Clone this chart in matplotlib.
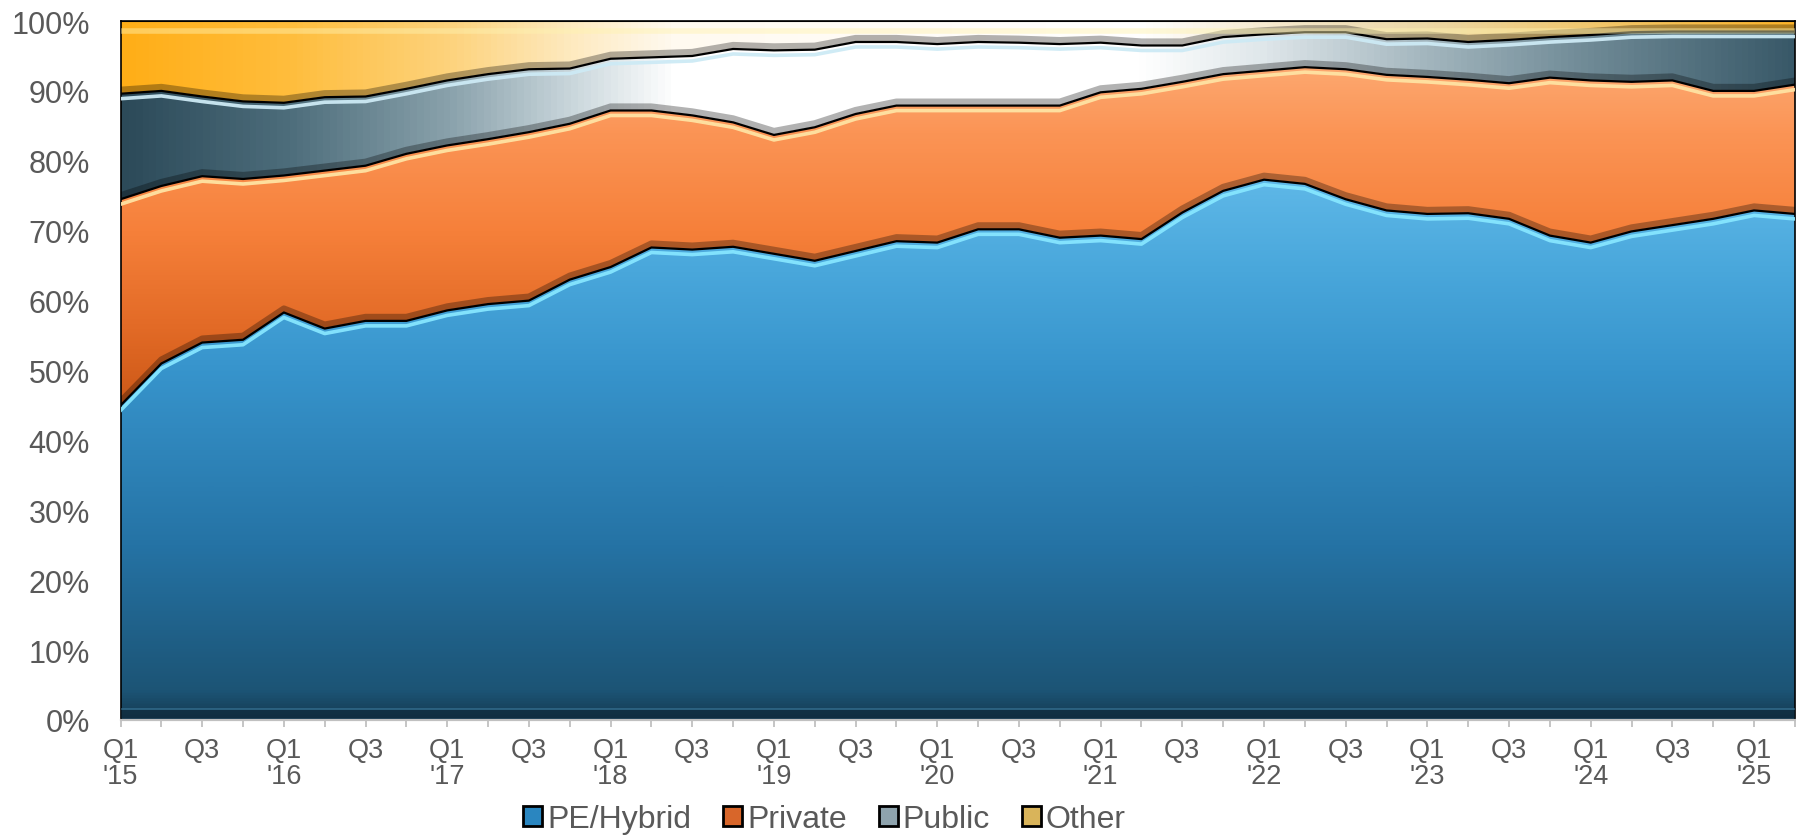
import numpy as np
import matplotlib
matplotlib.use("Agg")
import matplotlib.pyplot as plt
from matplotlib import patheffects as pe
from matplotlib.colors import LinearSegmentedColormap
from matplotlib.patches import Patch

# quarterly share of deals by buyer type (%)
quarters = ["Q1 '15", "Q2 '15", "Q3 '15", "Q4 '15",
            "Q1 '16", "Q2 '16", "Q3 '16", "Q4 '16",
            "Q1 '17", "Q2 '17", "Q3 '17", "Q4 '17",
            "Q1 '18", "Q2 '18", "Q3 '18", "Q4 '18",
            "Q1 '19", "Q2 '19", "Q3 '19", "Q4 '19",
            "Q1 '20", "Q2 '20", "Q3 '20", "Q4 '20",
            "Q1 '21", "Q2 '21", "Q3 '21", "Q4 '21",
            "Q1 '22", "Q2 '22", "Q3 '22", "Q4 '22",
            "Q1 '23", "Q2 '23", "Q3 '23", "Q4 '23",
            "Q1 '24", "Q2 '24", "Q3 '24", "Q4 '24",
            "Q1 '25", "Q2 '25"]

pe_hybrid = [45.0, 51.0, 54.0, 54.4, 58.3, 56.0, 57.1, 57.1, 58.6, 59.5,
             60.0, 63.0, 64.8, 67.6, 67.3, 67.7, 66.7, 65.7, 67.1, 68.5,
             68.3, 70.2, 70.2, 69.0, 69.3, 68.8, 72.6, 75.7, 77.3, 76.7,
             74.5, 72.9, 72.4, 72.5, 71.7, 69.3, 68.3, 69.9, 70.8, 71.7,
             72.9, 72.4]
private = [29.5, 25.4, 23.8, 23.0, 19.6, 22.6, 22.2, 23.9, 23.6, 23.6,
           24.1, 22.3, 22.4, 19.6, 19.2, 17.8, 17.0, 19.1, 19.6, 19.4,
           19.6, 17.7, 17.7, 18.9, 20.5, 21.5, 18.7, 16.7, 15.6, 16.7,
           18.6, 19.4, 19.6, 19.1, 19.4, 22.6, 23.2, 21.4, 20.7, 18.3,
           17.1, 18.5]
public = [15.1, 13.6, 11.4, 11.1, 10.4, 10.5, 9.9, 9.3, 9.3, 9.3,
          9.0, 7.9, 7.4, 7.6, 8.5, 10.5, 12.1, 11.1, 10.3, 9.1,
          8.8, 9.1, 9.0, 8.8, 7.1, 6.2, 5.2, 5.3, 5.2, 5.0,
          5.3, 5.1, 5.5, 5.4, 6.2, 5.8, 6.5, 7.1, 7.0, 8.5,
          8.5, 7.6]
other = [10.4, 10.0, 10.8, 11.5, 11.7, 10.9, 10.8, 9.7, 8.5, 7.6,
         6.9, 6.8, 5.4, 5.2, 5.0, 4.0, 4.2, 4.1, 3.0, 3.0,
         3.3, 3.0, 3.1, 3.3, 3.1, 3.5, 3.5, 2.3, 1.9, 1.6,
         1.6, 2.6, 2.5, 3.0, 2.7, 2.3, 2.0, 1.6, 1.5, 1.5,
         1.5, 1.5]

series_names = ["PE/Hybrid", "Private", "Public", "Other"]

TXT = "#595959"
plt.rcParams["font.family"] = ["Liberation Sans", "DejaVu Sans"]

x = np.arange(len(quarters))
XMAX = 40.8
vals = np.array([pe_hybrid, private, public, other])
tops = np.cumsum(vals, axis=0)
tops[-1] = 100.0
bottoms = np.vstack([np.zeros(len(x)), tops[:-1]])

fig = plt.figure(figsize=(17.96, 8.37), dpi=100)
ax = fig.add_axes([0.0671, 0.1386, 0.9323, 0.8351])


def cmap_from(stops, span):
    return LinearSegmentedColormap.from_list(
        "g", [(p / span, c) for p, c in stops])


# gradients: vertical ones keyed on y (%), horizontal ones keyed on x (quarter index)
blue_v = cmap_from([(0, "#153a51"), (4, "#1c5475"), (25, "#2573a5"),
                    (50, "#3794cc"), (65, "#4aa8dc"), (80, "#63bbea"),
                    (100, "#63bbea")], 100)
orange_v = cmap_from([(0, "#c95616"), (45, "#cc5817"), (56, "#e26a26"),
                      (70, "#f6803a"), (84, "#fb9455"), (95, "#fdab74"),
                      (100, "#fdab74")], 100)
gray_h = cmap_from([(0, "#2c4a59"), (4, "#4d6d7b"), (8, "#8aa2ac"),
                    (11, "#cad7dc"), (13.5, "#ffffff"), (25, "#ffffff"),
                    (28, "#dfe7ea"), (32, "#a3b6be"), (36, "#6f8a96"),
                    (42, "#2e4f5f")], 42)
gold_h = cmap_from([(0, "#ffae17"), (4, "#ffbd3c"), (8, "#fdd37d"),
                    (11, "#feeac0"), (13.5, "#fffaf0"), (25, "#ffffff"),
                    (28, "#f6ead0"), (32, "#ecd7a6"), (36, "#f0c76e"),
                    (42, "#ffb01c")], 42)
fills = [(blue_v, "v"), (orange_v, "v"), (gray_h, "h"), (gold_h, "h")]

for k, (cm, way) in enumerate(fills):
    poly = ax.fill_between(x, bottoms[k], tops[k], facecolor="none",
                           edgecolor="none", zorder=1)
    if way == "v":
        grad = np.linspace(0, 1, 512).reshape(-1, 1)
    else:
        grad = np.linspace(0, 1, 512).reshape(1, -1)
    im = ax.imshow(grad, cmap=cm, aspect="auto", origin="lower",
                   extent=[0, 42, 0, 100], zorder=1, interpolation="bilinear")
    im.set_clip_path(poly.get_paths()[0], ax.transData)

# bevel-ish edges on each boundary: dark band above, black line, highlight below
highlights = ["#86e6ff", "#ffe3a3", "#cdeaf5"]
for k in range(3):
    ax.plot(x, tops[k], color="black", lw=1.6, zorder=5,
            solid_joinstyle="round",
            path_effects=[
                pe.Stroke(offset=(0, 2.8), linewidth=4.6, foreground="black",
                          alpha=0.3),
                pe.Stroke(offset=(0, -3.6), linewidth=2.6,
                          foreground=highlights[k], alpha=0.95),
                pe.Normal()])

# top and bottom bevel strips
ax.plot([0, 42], [100, 100], color="black", lw=1.5, zorder=6,
        path_effects=[pe.Stroke(offset=(0, -7), linewidth=4,
                                foreground="#fff3b0", alpha=0.45),
                      pe.Normal()])
ax.plot([0, 42], [0, 0], color="none", zorder=4,
        path_effects=[pe.Stroke(offset=(0, 4), linewidth=6,
                                foreground="#0e2636", alpha=0.6),
                      pe.Stroke(offset=(0, 8), linewidth=1.2,
                                foreground="#3f7fa3", alpha=0.6)])

ax.set_xlim(0, XMAX)
ax.set_ylim(0, 100)

tick_labels = []
for q in quarters:
    qq, yy = q.split(" ")
    if qq == "Q1":
        tick_labels.append(qq + "\n" + yy)
    elif qq == "Q3":
        tick_labels.append(qq)
    else:
        tick_labels.append("")
ax.set_xticks(x)
ax.set_xticklabels(tick_labels, fontsize=19.5, color=TXT, linespacing=1.0)
ax.tick_params(axis="x", length=5, width=1.3, color="#c0c0c0", pad=7)

ax.set_yticks(np.arange(0, 101, 10))
ax.set_yticklabels([f"{v}%" for v in range(0, 101, 10)], fontsize=22,
                   color=TXT)
ax.tick_params(axis="y", length=0, pad=22)

for side in ["left", "top", "right"]:
    ax.spines[side].set_color("black")
    ax.spines[side].set_linewidth(1.2)
ax.spines["bottom"].set_color("#c0c0c0")
ax.spines["bottom"].set_linewidth(1.6)

handle_colors = ["#2a86c0", "#d8662a", "#8ea3ad", "#d9b45a"]
handles = [Patch(facecolor=c, edgecolor="black", linewidth=2)
           for c in handle_colors]
fig.legend(handles, series_names, loc="center", ncol=4,
           bbox_to_anchor=(0.459, 0.02), frameon=False, fontsize=23,
           labelcolor=TXT, handlelength=0.6, handleheight=0.6,
           handletextpad=0.15, columnspacing=1.0, borderpad=0.1)

fig.savefig("out.png", dpi=100)
